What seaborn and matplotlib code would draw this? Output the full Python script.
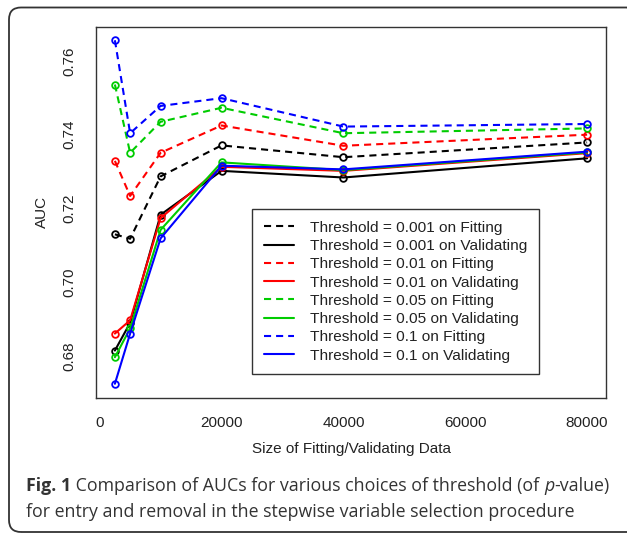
import numpy as np
import pandas as pd
import matplotlib
matplotlib.use("Agg")
import matplotlib.pyplot as plt
import seaborn as sns
from matplotlib.lines import Line2D
from matplotlib.patches import FancyBboxPatch
from matplotlib.transforms import IdentityTransform

# ---------------- data ----------------
sizes = [2500, 5000, 10000, 20000, 40000, 80000]
fit_0001 = [0.7130, 0.7118, 0.7287, 0.7371, 0.7339, 0.7379]
val_0001 = [0.6815, 0.6890, 0.7183, 0.7302, 0.7284, 0.7336]
fit_001 = [0.7329, 0.7234, 0.7351, 0.7425, 0.7370, 0.7400]
val_001 = [0.6861, 0.6897, 0.7174, 0.7313, 0.7302, 0.7350]
fit_005 = [0.7536, 0.7351, 0.7435, 0.7473, 0.7404, 0.7417]
val_005 = [0.6797, 0.6875, 0.7142, 0.7325, 0.7304, 0.7352]
fit_01 = [0.7656, 0.7404, 0.7478, 0.7499, 0.7422, 0.7429]
val_01 = [0.6725, 0.6861, 0.7119, 0.7316, 0.7306, 0.7354]

labels = [
    "Threshold = 0.001 on Fitting",
    "Threshold = 0.001 on Validating",
    "Threshold = 0.01 on Fitting",
    "Threshold = 0.01 on Validating",
    "Threshold = 0.05 on Fitting",
    "Threshold = 0.05 on Validating",
    "Threshold = 0.1 on Fitting",
    "Threshold = 0.1 on Validating",
]
series = [fit_0001, val_0001, fit_001, val_001, fit_005, val_005, fit_01, val_01]
colors = ["#000000", "#000000", "#FF0000", "#FF0000",
          "#00CC00", "#00CC00", "#0000FF", "#0000FF"]
is_fit = [True, False, True, False, True, False, True, False]

x_ticks = [0, 20000, 40000, 60000, 80000]
y_ticks = [0.68, 0.70, 0.72, 0.74, 0.76]

# ---------------- build long table ----------------
rows = []
for lab, vals in zip(labels, series):
    for s, v in zip(sizes, vals):
        rows.append({"size": s, "auc": v, "label": lab})
df = pd.DataFrame(rows)

palette = dict(zip(labels, colors))
dash_fit = (3.4, 2.4)
dashes = {lab: (dash_fit if f else "") for lab, f in zip(labels, is_fit)}
markers = {lab: "o" for lab in labels}

# ---------------- figure ----------------
sns.set_style("white")
plt.rcParams["font.family"] = ["Liberation Sans", "DejaVu Sans"]

W, H = 627, 534
fig = plt.figure(figsize=(W / 100, H / 100), dpi=100)
ax = fig.add_axes([96 / W, 1 - 397.5 / H, 510 / W, 371 / H])

sns.lineplot(data=df, x="size", y="auc", hue="label", style="label",
             palette=palette, dashes=dashes, markers=markers,
             linewidth=1.5, markersize=4.8, legend=False, ax=ax,
             hue_order=labels, style_order=labels)

for line in ax.lines:
    c = line.get_color()
    line.set_markerfacecolor("none")
    line.set_markeredgecolor(c)
    line.set_markeredgewidth(1.3)

ax.margins(x=0.04, y=0.04)
ax.set_xticks(x_ticks)
ax.set_xticklabels([str(t) for t in x_ticks])
ax.set_yticks(y_ticks)
ax.set_yticklabels([f"{t:.2f}" for t in y_ticks], rotation=90, va="center")

for sp in ax.spines.values():
    sp.set_visible(True)
    sp.set_color("#333333")
    sp.set_linewidth(1.0)

ax.tick_params(axis="both", which="major", direction="out", length=7,
               width=1.0, color="#333333", labelsize=11, labelcolor="#222222")
ax.tick_params(axis="x", pad=6)
ax.tick_params(axis="y", pad=7)

ax.set_xlabel("Size of Fitting/Validating Data", fontsize=11, color="#222222", labelpad=9)
ax.set_ylabel("AUC", fontsize=11, color="#222222", labelpad=10)

# legend (no markers, as in reference)
handles = []
for lab, c, f in zip(labels, colors, is_fit):
    h = Line2D([], [], color=c, lw=1.5,
               linestyle=(0, dash_fit) if f else "-")
    handles.append(h)
leg = ax.legend(handles, labels, loc="upper left", bbox_to_anchor=(0.306, 0.508),
                fontsize=11.1, frameon=True, fancybox=False, framealpha=1,
                edgecolor="#333333", borderpad=0.75, labelspacing=0.28,
                handlelength=2.0, handletextpad=1.0, borderaxespad=0)
leg.get_frame().set_linewidth(1.0)
for t in leg.get_texts():
    t.set_color("#222222")

# ---------------- frame ----------------
frame = FancyBboxPatch((9, H - 532), W + 12 - 9, 532 - 7.5,
                       boxstyle="round,pad=0,rounding_size=12",
                       transform=IdentityTransform(), fill=False,
                       edgecolor="#333333", linewidth=1.3, clip_on=False)
fig.patches.append(frame)

# ---------------- caption ----------------
fig.canvas.draw()
renderer = fig.canvas.get_renderer()
cap_font = ["Open Sans", "DejaVu Sans"]
cap_size = 12.8
cap_color = "#333333"


def put_pieces(pieces, x_px, y_px):
    x = x_px
    for txt, weight, style in pieces:
        t = fig.text(x / W, 1 - y_px / H, txt, fontsize=cap_size, family=cap_font,
                     fontweight=weight, fontstyle=style, color=cap_color,
                     va="center", ha="left")
        bb = t.get_window_extent(renderer=renderer)
        x += bb.width


put_pieces([("Fig. 1", "bold", "normal"),
            (" Comparison of AUCs for various choices of threshold (of ", "normal", "normal"),
            ("p", "normal", "italic"),
            ("-value)", "normal", "normal")], 26, 486)
put_pieces([("for entry and removal in the stepwise variable selection procedure",
             "normal", "normal")], 26, 512)

fig.savefig("out.png", dpi=100)
